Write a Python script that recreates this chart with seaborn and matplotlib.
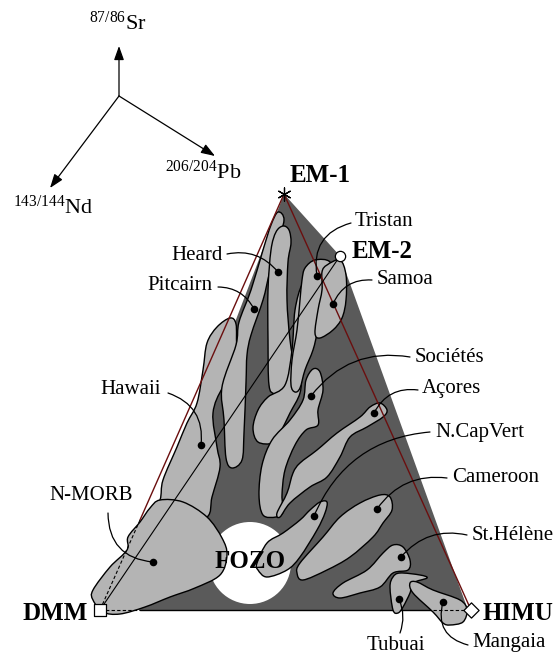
import numpy as np
import matplotlib
matplotlib.use('Agg')
import matplotlib.pyplot as plt
import seaborn as sns
from matplotlib.path import Path
from matplotlib.patches import PathPatch, Polygon, Circle

sns.set_theme(style='white')
plt.rcParams['font.family'] = ['Liberation Serif', 'DejaVu Serif']
plt.rcParams['mathtext.fontset'] = 'custom'
plt.rcParams['mathtext.rm'] = 'Liberation Serif'
plt.rcParams['text.color'] = 'black'

# --- end-members (pixel space, y down) ---
em_names = ['EM-1', 'EM-2', 'DMM', 'HIMU']
em_x = [284, 340, 100, 471]
em_y = [194, 256, 610, 610]
em_label_x = [290, 352, 88, 483]
em_label_y = [175, 251, 613, 613]
em_ha = ['left', 'left', 'right', 'left']

fozo_xy = (250, 563)
fozo_r = 41

# --- field outlines ---
hawaii = [(230, 318), (236, 324), (237, 347), (243, 353), (242, 363), (223, 387),
          (213, 413), (217, 447), (220, 467), (212, 497), (207, 517), (180, 522),
          (150, 520), (160, 500), (163, 480), (177, 447), (187, 423), (197, 403),
          (203, 370), (207, 343), (217, 327)]
nmorb = [(160, 500), (183, 502), (207, 517), (222, 538), (227, 555), (220, 575),
         (195, 588), (170, 597), (145, 607), (120, 614), (103, 612), (93, 600),
         (93, 590), (110, 567), (127, 550), (128, 537), (140, 522), (150, 508)]
pitcairn = [(278, 212), (284, 220), (277, 245), (269, 275), (263, 300), (251, 335),
            (247, 355), (246, 383), (244, 433), (242, 460), (232, 468), (226, 458),
            (224, 420), (222, 387), (236, 345), (239, 322), (251, 290), (263, 250),
            (271, 225)]
heard = [(283, 226), (289, 230), (291, 243), (288, 262), (287, 300), (290, 340),
         (295, 370), (297, 387), (290, 395), (275, 394), (269, 385), (268, 340),
         (268, 290), (271, 250), (276, 232)]
field_d = [(302, 285), (308, 292), (305, 330), (302, 370), (300, 393), (290, 413),
           (280, 433), (273, 443), (258, 442), (253, 428), (258, 410), (268, 397),
           (285, 385), (292, 350), (295, 310)]
tristan = [(305, 268), (315, 260), (330, 262), (333, 280), (325, 305), (318, 330),
           (313, 350), (305, 370), (300, 388), (295, 392), (291, 385), (292, 360),
           (297, 330), (300, 300), (302, 280)]
samoa = [(327, 265), (340, 260), (346, 275), (346, 300), (342, 318), (333, 330),
         (320, 338), (315, 333), (318, 310), (322, 290), (322, 272)]
societes = [(313, 369), (320, 372), (323, 390), (318, 410), (318, 425), (306, 430),
            (295, 445), (285, 470), (282, 495), (283, 512), (276, 517), (263, 515),
            (259, 495), (262, 465), (272, 440), (290, 420), (303, 400), (306, 380)]
acores = [(380, 403), (387, 410), (383, 417), (367, 427), (350, 437), (340, 457),
          (327, 477), (310, 487), (290, 503), (280, 517), (277, 513), (287, 493),
          (293, 473), (300, 463), (317, 450), (337, 433), (360, 417), (370, 407)]
capvert = [(327, 502), (325, 513), (317, 530), (300, 557), (287, 570), (267, 577),
           (258, 570), (257, 563), (267, 543), (283, 533), (300, 520), (310, 510),
           (320, 502)]
cameroon = [(380, 495), (390, 497), (392, 510), (383, 523), (373, 537), (350, 557),
            (327, 570), (303, 580), (297, 573), (300, 563), (323, 537), (340, 517),
            (360, 503)]
helene = [(393, 545), (403, 547), (410, 560), (408, 570), (393, 573), (380, 587),
          (360, 593), (340, 598), (333, 593), (343, 583), (367, 570), (383, 553)]
tubuai = [(400, 573), (420, 575), (427, 578), (413, 583), (410, 593), (403, 607),
          (398, 613), (393, 610), (390, 587), (393, 577)]
mangaia = [(410, 583), (417, 582), (433, 590), (460, 600), (467, 610), (463, 622),
           (450, 625), (443, 623), (433, 612), (413, 593)]

fields = [hawaii, nmorb, pitcairn, heard, field_d, tristan, samoa, societes,
          acores, capvert, cameroon, helene, tubuai, mangaia]

# --- labelled localities ---
site_names = ['Heard', 'Pitcairn', 'Hawaii', 'N-MORB', 'Tristan', 'Samoa',
              'Sociétés', 'Açores', 'N.CapVert', 'Cameroon', 'St.Hélène',
              'Tubuai', 'Mangaia']
dot_x = [278, 254, 201, 153, 317, 333, 311, 374, 314, 377, 401, 399, 443]
dot_y = [272, 309, 445, 562, 276, 304, 396, 413, 516, 509, 557, 599, 602]
text_x = [223, 213, 161, 91, 355, 377, 415, 422, 435, 452, 472, 396, 472]
text_y = [255, 286, 389, 495, 222, 279, 357, 389, 432, 477, 535, 645, 643]
text_ha = ['right', 'right', 'right', 'center', 'left', 'left', 'left', 'left',
           'left', 'left', 'left', 'center', 'left']
lead_x = [227, 218, 168, 108, 351, 372, 410, 418, 430, 447, 467, 400, 468]
lead_y = [254, 287, 393, 513, 223, 280, 357, 390, 432, 478, 535, 633, 645]
lead_rad = [-0.3, -0.3, -0.4, 0.45, 0.45, 0.35, 0.3, 0.35, 0.3, 0.3, 0.3, 0.2, -0.5]

# --- isotope axes ---
axis_labels = ['$\\mathregular{^{87/86}}$Sr', '$\\mathregular{^{143/144}}$Nd',
               '$\\mathregular{^{206/204}}$Pb']
axis_origin = (119, 96)
axis_tip_x = [119, 50, 215]
axis_tip_y = [46, 188, 156]
axis_text_x = [118, 53, 203]
axis_text_y = [23, 207, 172]

DARK = '#5a5a5a'
LIGHT = '#b4b4b4'
BROWN = '#6b0f0f'


def smooth_path(pts):
    # closed Catmull-Rom outline converted to cubic Bezier segments
    p = np.array(pts, dtype=float)
    n = len(p)
    verts = [p[0]]
    codes = [Path.MOVETO]
    for i in range(n):
        p0, p1, p2, p3 = p[i - 1], p[i], p[(i + 1) % n], p[(i + 2) % n]
        c1 = p1 + (p2 - p0) / 6.0
        c2 = p2 - (p3 - p1) / 6.0
        verts += [c1, c2, p2]
        codes += [Path.CURVE4] * 3
    return Path(verts, codes)


fig = plt.figure(figsize=(5.58, 6.57), dpi=100)
ax = fig.add_axes([0, 0, 1, 1])
ax.set_xlim(0, 558)
ax.set_ylim(657, 0)
ax.axis('off')

# dark mantle triangle
ax.add_patch(Polygon([(em_x[0], em_y[0]), (em_x[1], em_y[1]), (468, 610), (125, 610)],
                     closed=True, facecolor=DARK, edgecolor='none', zorder=1))
ax.add_patch(Circle(fozo_xy, fozo_r, facecolor='white', edgecolor='none', zorder=2))

for i, f in enumerate(fields):
    ax.add_patch(PathPatch(smooth_path(f), facecolor=LIGHT, edgecolor='black',
                           lw=1.0, zorder=3 + i * 0.01))

# mixing lines
ax.plot([em_x[0], 140], [em_y[0], 520], color=BROWN, lw=1.0, zorder=5)
ax.plot([140, em_x[2]], [520, em_y[2]], color='black', lw=0.8, ls=(0, (3, 2)), zorder=5)
ax.plot([em_x[0], em_x[3]], [em_y[0], em_y[3]], color=BROWN, lw=1.0, zorder=5)
ax.plot([em_x[2], em_x[1]], [em_y[2], em_y[1]], color='black', lw=0.8, zorder=5)
ax.plot([140, 433], [610, 610], color='black', lw=1.0, zorder=2.5)
ax.plot([em_x[2], 140], [610, 610], color='black', lw=0.8, ls=(0, (3, 2)), zorder=5)
ax.plot([433, em_x[3]], [610, 610], color='black', lw=0.8, ls=(0, (3, 2)), zorder=5)

# leaders
for i in range(len(site_names)):
    ax.annotate('', xy=(dot_x[i], dot_y[i]), xytext=(lead_x[i], lead_y[i]),
                arrowprops=dict(arrowstyle='-', lw=0.9, color='black',
                                shrinkA=0, shrinkB=0,
                                connectionstyle='arc3,rad=%s' % lead_rad[i]),
                zorder=6)
    ax.text(text_x[i], text_y[i], site_names[i], ha=text_ha[i], va='center',
            fontsize=15, color='black', zorder=7)

sns.scatterplot(x=dot_x, y=dot_y, color='black', s=30, edgecolor='black',
                linewidth=0, ax=ax, zorder=8, legend=False)

# end-member markers
sns.scatterplot(x=em_x[:1], y=em_y[:1], marker=(6, 2, 0), s=90, color='black',
                linewidth=0.9, ax=ax, zorder=9, legend=False)
sns.scatterplot(x=em_x[1:2], y=em_y[1:2], marker='o', s=55, facecolor='white',
                edgecolor='black', linewidth=0.9, ax=ax, zorder=9, legend=False)
sns.scatterplot(x=em_x[2:3], y=em_y[2:3], marker='s', s=70, facecolor='white',
                edgecolor='black', linewidth=0.9, ax=ax, zorder=9, legend=False)
sns.scatterplot(x=em_x[3:], y=em_y[3:], marker='D', s=60, facecolor='white',
                edgecolor='black', linewidth=0.9, ax=ax, zorder=9, legend=False)
for i in range(len(em_names)):
    ax.text(em_label_x[i], em_label_y[i], em_names[i], ha=em_ha[i], va='center',
            fontsize=18, fontweight='bold', color='black', zorder=9)
ax.text(fozo_xy[0], fozo_xy[1] - 2, 'FOZO', ha='center', va='center',
        fontsize=18, fontweight='bold', color='black', zorder=9)

# isotope axis arrows
for i in range(3):
    ax.annotate('', xy=(axis_tip_x[i], axis_tip_y[i]), xytext=axis_origin,
                arrowprops=dict(arrowstyle='-|>,head_length=0.7,head_width=0.25',
                                lw=0.9, color='black', shrinkA=0, shrinkB=0))
    ax.text(axis_text_x[i], axis_text_y[i], axis_labels[i], ha='center', va='center',
            fontsize=16, color='black')

fig.savefig('out.png', dpi=100)
